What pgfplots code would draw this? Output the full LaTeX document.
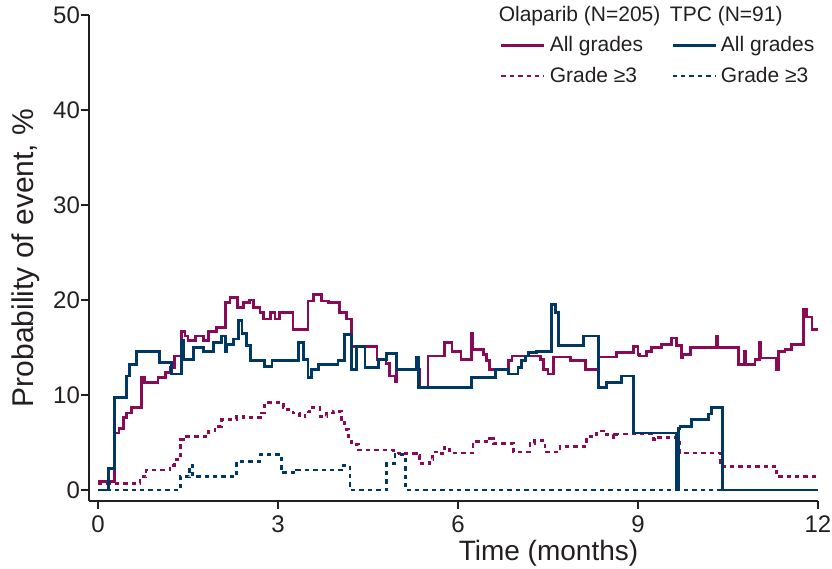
\documentclass[border=0pt]{standalone}
\usepackage{pgfplots}
\pgfplotsset{compat=1.18}
\usepackage{fontspec}
\setmainfont{Liberation Sans}
\definecolor{olap}{RGB}{137,10,85}
\definecolor{tpc}{RGB}{0,56,101}
\definecolor{ink}{RGB}{35,31,32}
\begin{document}
\begin{tikzpicture}
\begin{axis}[
  scale only axis, width=364.5pt, height=243pt,
  xmin=-0.15, xmax=12, ymin=-1.16, ymax=50,
  axis lines=left, axis line style={-, line width=1.3pt, ink},
  xtick={0,3,6,9,12}, ytick={0,10,20,30,40,50},
  tick align=outside, major tick length=4pt,
  tick style={line width=1.3pt, ink},
  /pgf/number format/assume math mode=true,
  tick label style={font=\fontsize{12}{14}\selectfont, text=ink},
  yticklabel style={xshift=3pt},
  xlabel={Time (months)}, ylabel={Probability of event, \%},
  xlabel style={font=\fontsize{14}{16}\selectfont, text=ink, xshift=47.5pt, yshift=3.5pt},
  ylabel style={font=\fontsize{15}{17}\selectfont, text=ink},
  clip=false,
  legend style={draw=none, fill=none, at={(axis description cs:0.555,1.035)}, anchor=north west,
    font=\fontsize{10.5}{12}\selectfont, text=ink, row sep=2pt,
    /tikz/every even column/.append style={column sep=12pt}},
  legend columns=2, legend cell align=left,
  legend image code/.code={\draw[#1] (0pt,0pt) -- (21.5pt,0pt);},
]
\addlegendimage{empty legend}
\addlegendentry{\makebox[0pt][l]{\hspace*{-25.5pt}Olaparib (N=205)}}
\addlegendimage{empty legend}
\addlegendentry{\makebox[0pt][l]{\hspace*{-25.5pt}TPC (N=91)}}
\addlegendimage{olap, line width=1.4pt}
\addlegendentry{All grades}
\addlegendimage{tpc, line width=1.4pt}
\addlegendentry{All grades}
\addlegendimage{olap, line width=1.4pt, dash pattern=on 2.2pt off 2pt}
\addlegendentry{Grade ≥3}
\addlegendimage{tpc, line width=1.4pt, dash pattern=on 2.2pt off 2pt}
\addlegendentry{Grade ≥3}

% Olaparib grade >=3
\addplot[forget plot, const plot, olap, line width=1.4pt, dash pattern=on 2.2pt off 2pt] coordinates {
(0,0.7) (0.7,1.4) (0.8,2.1) (1.2,2.6) (1.28,3.2) (1.38,5.3) (1.48,5.6) (1.84,6.2) (1.95,6.7)
(2.06,7.4) (2.31,7.7) (2.42,7.6) (2.73,8.1) (2.78,9.2) (3.09,8.7) (3.11,8.5) (3.25,8.1) (3.36,7.7)
(3.45,8.2) (3.53,8.7) (3.7,7.7) (3.81,8.1) (3.92,8.3) (4.06,7.4) (4.11,6.4) (4.17,5.6) (4.22,4.8)
(4.34,4.2) (4.92,3.9) (5.03,3.8) (5.31,3.6) (5.36,2.8) (5.53,3.2) (5.58,4.0) (5.67,3.8) (5.78,4.5)
(5.86,3.9) (6.25,5.1) (6.53,5.4) (6.59,4.9) (6.92,4.0) (7.2,4.9) (7.28,5.2) (7.45,4.0) (7.7,4.6)
(8.14,5.6) (8.31,6.2) (8.42,5.8) (8.59,5.5) (8.64,5.9) (9.26,5.3) (9.34,5.5) (9.7,3.9) (10.37,2.5)
(11.31,1.4) (12,1.4)};
% TPC grade >=3
\addplot[forget plot, const plot, tpc, line width=1.4pt, dash pattern=on 2.2pt off 2pt] coordinates {
(0,0) (1.37,1.4) (1.53,2.6) (1.58,1.4) (2.31,3.0) (2.7,3.7) (3.06,1.8) (3.31,2.1) (4.09,2.6)
(4.2,0) (4.81,2.8) (4.95,3.7) (5.12,0) (12,0)};
% Olaparib all grades
\addplot[forget plot, const plot, olap, line width=1.4pt] coordinates {
(0,0.9) (0.28,6.0) (0.35,6.5) (0.42,7.6) (0.48,8.1) (0.56,8.7) (0.73,11.8) (0.78,11.3) (1.0,11.8)
(1.12,12.4) (1.2,12.9) (1.28,14.1) (1.39,16.7) (1.45,16.2) (1.5,15.7) (1.62,16.2) (1.76,15.7)
(1.84,16.7) (1.98,17.1) (2.12,19.7) (2.2,20.3) (2.33,19.2) (2.42,19.7) (2.53,20.0) (2.59,19.2)
(2.7,18.7) (2.76,18.0) (2.87,18.7) (2.95,18.0) (3.03,18.7) (3.25,16.9) (3.5,19.9) (3.59,20.6)
(3.72,19.9) (3.84,19.7) (4.03,18.7) (4.14,18.0) (4.22,15.1) (4.65,13.7) (4.8,13.3) (4.86,12.0)
(4.95,11.4) (4.98,12.7) (5.36,10.8) (5.5,14.1) (5.78,15.5) (5.9,14.6) (6.05,13.7) (6.22,16.5)
(6.25,14.8) (6.42,14.3) (6.48,13.6) (6.53,12.7) (6.84,13.6) (6.9,14.1) (7.37,13.7) (7.42,12.7)
(7.5,12.2) (7.59,14.0) (7.87,13.6) (8.12,12.7) (8.34,14.0) (8.64,14.5) (8.92,15.1) (9.0,14.3)
(9.03,14.1) (9.14,14.6) (9.23,15.0) (9.39,15.3) (9.56,16.0) (9.64,15.2) (9.72,13.9) (9.74,14.3)
(9.87,15.0) (10.31,16.2) (10.33,15.0) (10.67,13.2) (10.78,14.6) (10.8,13.2) (10.95,13.7)
(11.03,15.5) (11.05,13.9) (11.31,12.7) (11.34,14.6) (11.45,14.8) (11.56,15.3) (11.76,19.0)
(11.81,18.2) (11.9,16.9) (12.0,16.9)};
% TPC all grades
\addplot[forget plot, const plot, tpc, line width=1.4pt] coordinates {
(0,0) (0.17,2.3) (0.27,9.7) (0.48,12.0) (0.53,13.2) (0.64,14.6) (1.03,13.4) (1.23,12.2) (1.39,15.7)
(1.42,13.7) (1.59,15.0) (1.76,14.6) (1.92,15.5) (2.06,16.2) (2.12,14.6) (2.15,15.3) (2.26,15.9)
(2.34,17.8) (2.4,16.5) (2.48,15.2) (2.54,13.6) (2.78,13.0) (2.9,13.6) (3.34,15.5) (3.42,13.7)
(3.5,11.8) (3.56,12.7) (3.67,13.2) (4.0,13.6) (4.11,16.4) (4.22,12.7) (4.31,15.1) (4.45,12.9)
(4.67,13.7) (4.81,14.4) (4.97,12.7) (5.31,14.0) (5.34,10.8) (6.22,11.8) (6.62,12.7) (6.84,12.2)
(7.0,12.9) (7.06,13.6) (7.12,14.1) (7.17,14.5) (7.31,14.6) (7.56,19.5) (7.62,18.7) (7.67,15.2)
(8.09,16.2) (8.34,10.8) (8.48,11.3) (8.73,12.0) (8.92,6.0) (9.64,0) (9.68,6.5) (9.7,6.7)
(9.89,7.4) (10.17,8.0) (10.23,8.7) (10.41,0) (12,0)};
\end{axis}
\pgfresetboundingbox
\path ([shift={(-44.5pt,-34pt)}]current axis.south west) rectangle ([shift={(7pt,7.5pt)}]current axis.north east);
\end{tikzpicture}
\end{document}
